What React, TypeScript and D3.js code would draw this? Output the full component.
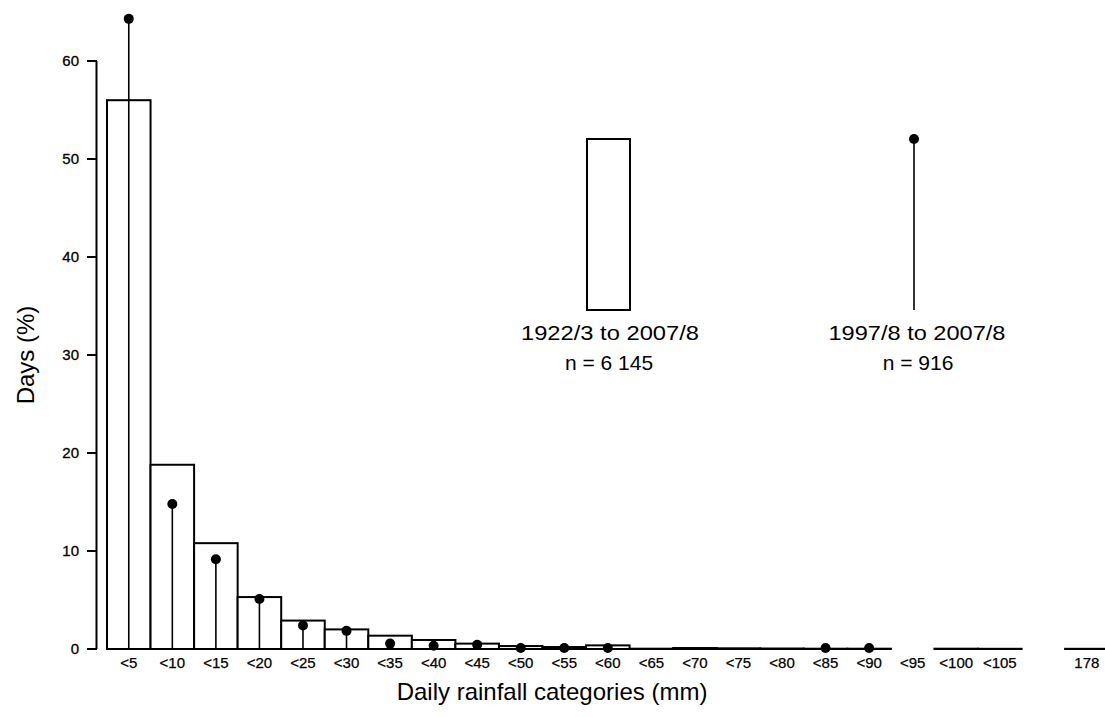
import React, { useEffect } from "react";
import * as d3 from "d3";

// Rainfall categories (mm); "gap" is an empty slot on the axis between <105 and 178
const categories = ["<5","<10","<15","<20","<25","<30","<35","<40","<45","<50","<55","<60","<65","<70","<75","<80","<85","<90","<95","<100","<105","gap","178"];
const tickLabels = ["<5","<10","<15","<20","<25","<30","<35","<40","<45","<50","<55","<60","<65","<70","<75","<80","<85","<90","<95","<100","<105","","178"];
// 1922/3 to 2007/8 (bars), % of days
const longRecord: (number | null)[] = [56.0,18.8,10.8,5.3,2.9,2.0,1.36,0.92,0.55,0.3,0.2,0.37,0.03,0.1,0.07,0.05,0.03,0.03,null,0.03,0.02,null,0.02];
// 1997/8 to 2007/8 (points), % of days
const recent: (number | null)[] = [64.3,14.8,9.15,5.1,2.4,1.85,0.55,0.33,0.44,0.11,0.11,0.11,null,null,null,null,0.11,0.11,null,null,null,null,null];
const yTicks = [0,10,20,30,40,50,60];

const W = 1105, H = 717;
const FONT = "'Liberation Sans', Arial, Helvetica, sans-serif";

export default function App() {
  useEffect(() => { document.body.style.margin = "0"; }, []);
  const x = d3.scaleBand<string>().domain(categories).range([107, 107 + categories.length * 43.55]).padding(0);
  const y = d3.scaleLinear().domain([0, 60]).range([649, 61]);
  const bw = x.bandwidth();
  const cx = (c: string) => (x(c) as number) + bw / 2;

  return (
    <svg width={W} height={H} style={{ display: "block", background: "#fff" }} fontFamily={FONT}>
      {/* y axis */}
      <line x1={96.5} x2={96.5} y1={y(60)} y2={y(0)} stroke="#000" strokeWidth={2} />
      {yTicks.map(t => (
        <g key={t}>
          <line x1={87} x2={97} y1={y(t)} y2={y(t)} stroke="#000" strokeWidth={2} />
          <text x={79} y={y(t)} dy="0.36em" textAnchor="end" fontSize={15} stroke="#000" strokeWidth={0.3}>{t}</text>
        </g>
      ))}
      {/* bars */}
      {categories.map((c, i) => longRecord[i] == null ? null : (
        <rect key={c} x={x(c)} y={y(longRecord[i] as number)} width={bw}
          height={y(0) - y(longRecord[i] as number)} fill="#fff" stroke="#000" strokeWidth={2} />
      ))}
      {/* stems & dots */}
      {categories.map((c, i) => recent[i] == null ? null : (
        <g key={c}>
          <line x1={cx(c)} x2={cx(c)} y1={y(recent[i] as number)} y2={y(0)} stroke="#000" strokeWidth={1.6} />
          <circle cx={cx(c)} cy={y(recent[i] as number)} r={5} fill="#000" />
        </g>
      ))}
      {/* x tick labels */}
      {categories.map((c, i) => (
        <text key={c} x={cx(c)} y={668} textAnchor="middle" fontSize={15} stroke="#000" strokeWidth={0.25}>{tickLabels[i]}</text>
      ))}
      {/* axis titles */}
      <text x={552} y={700} textAnchor="middle" fontSize={24}>Daily rainfall categories (mm)</text>
      <text transform="translate(34,355) rotate(-90)" textAnchor="middle" fontSize={24}>Days (%)</text>
      {/* legend */}
      <rect x={587} y={139} width={43} height={171} fill="#fff" stroke="#000" strokeWidth={2} />
      <text x={610} y={340} textAnchor="middle" fontSize={21} textLength={178} lengthAdjust="spacingAndGlyphs">1922/3 to 2007/8</text>
      <text x={609} y={370} textAnchor="middle" fontSize={21}>n = 6 145</text>
      <line x1={914} x2={914} y1={139} y2={310} stroke="#000" strokeWidth={1.6} />
      <circle cx={914} cy={139} r={5} fill="#000" />
      <text x={917} y={340} textAnchor="middle" fontSize={21} textLength={177} lengthAdjust="spacingAndGlyphs">1997/8 to 2007/8</text>
      <text x={918} y={370} textAnchor="middle" fontSize={21}>n = 916</text>
    </svg>
  );
}
